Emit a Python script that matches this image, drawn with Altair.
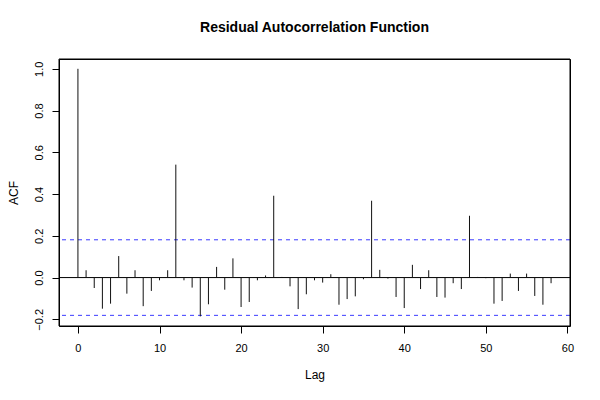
import altair as alt
import pandas as pd

lags = list(range(59))
acf = [1.0, 0.035, -0.05, -0.149, -0.125, 0.103, -0.077, 0.035, -0.137, -0.064,
       -0.013, 0.035, 0.541, -0.013, -0.048, -0.186, -0.128, 0.051, -0.058, 0.092,
       -0.141, -0.117, -0.013, 0.010, 0.392, 0.003, -0.042, -0.151, -0.080, -0.013,
       -0.024, 0.016, -0.130, -0.103, -0.090, -0.008, 0.368, 0.037, -0.005, -0.093,
       -0.146, 0.061, -0.055, 0.035, -0.093, -0.096, -0.027, -0.055, 0.296, 0.003,
       -0.003, -0.125, -0.112, 0.019, -0.064, 0.019, -0.088, -0.130, -0.027]
ci = [0.181, -0.181]
x_ticks = [0, 10, 20, 30, 40, 50, 60]
y_ticks = [-0.2, 0.0, 0.2, 0.4, 0.6, 0.8, 1.0]

df = pd.DataFrame({"lag": lags, "acf": acf, "zero": [0.0] * len(lags)})
ci_df = pd.DataFrame({"ci": ci})
zero_df = pd.DataFrame({"z": [0.0]})

xscale = alt.Scale(domain=[-2.32, 60.32], nice=False, zero=False)
yscale = alt.Scale(domain=[-0.232, 1.047], nice=False, zero=False)

font = "Liberation Sans"
W, H = 511, 267

bars = alt.Chart(df).mark_rule(color="#111111", strokeWidth=1).encode(
    x=alt.X("lag:Q", scale=xscale,
            axis=alt.Axis(values=x_ticks, title="Lag", domain=False, grid=False,
                          tickColor="#000", tickSize=7, labelPadding=9,
                          labelFontSize=11, labelFont=font, labelColor="#000",
                          titleFont=font, titleFontSize=12, titleFontWeight="normal",
                          titleColor="#000", titlePadding=16)),
    y=alt.Y("zero:Q", scale=yscale,
            axis=alt.Axis(values=y_ticks, title="ACF", format=".1f", domain=False,
                          grid=False, tickColor="#000", tickSize=7, labelPadding=8,
                          labelAngle=-90, labelAlign="center", labelBaseline="bottom",
                          labelFontSize=11, labelFont=font, labelColor="#000",
                          titleFont=font, titleFontSize=12, titleFontWeight="normal",
                          titleColor="#000", titlePadding=13)),
    y2="acf:Q",
)

zero_line = alt.Chart(zero_df).mark_rule(color="#000", strokeWidth=1).encode(
    y=alt.Y("z:Q", scale=yscale)
)

ci_lines = alt.Chart(ci_df).mark_rule(color="#3a3aff", strokeWidth=1, strokeDash=[4, 4]).encode(
    y=alt.Y("ci:Q", scale=yscale)
)

frame = alt.Chart(zero_df).mark_rect(fill=None, stroke="#000", strokeWidth=1, fillOpacity=0).encode(
    x=alt.value(0), x2=alt.value(W), y=alt.value(0), y2=alt.value(H)
)

chart = alt.layer(zero_line, ci_lines, bars, frame).properties(
    width=W,
    height=H,
    title=alt.TitleParams("Residual Autocorrelation Function", font=font, fontSize=14,
                          fontWeight="bold", color="#000", anchor="middle", offset=24),
    autosize=alt.AutoSizeParams(type="none"),
    padding={"left": 51, "top": 51, "right": 14, "bottom": 66},
    background="white",
).configure_view(stroke="#000", strokeWidth=1)

chart.save("out.html", embed_options={"renderer": "svg", "actions": False})
